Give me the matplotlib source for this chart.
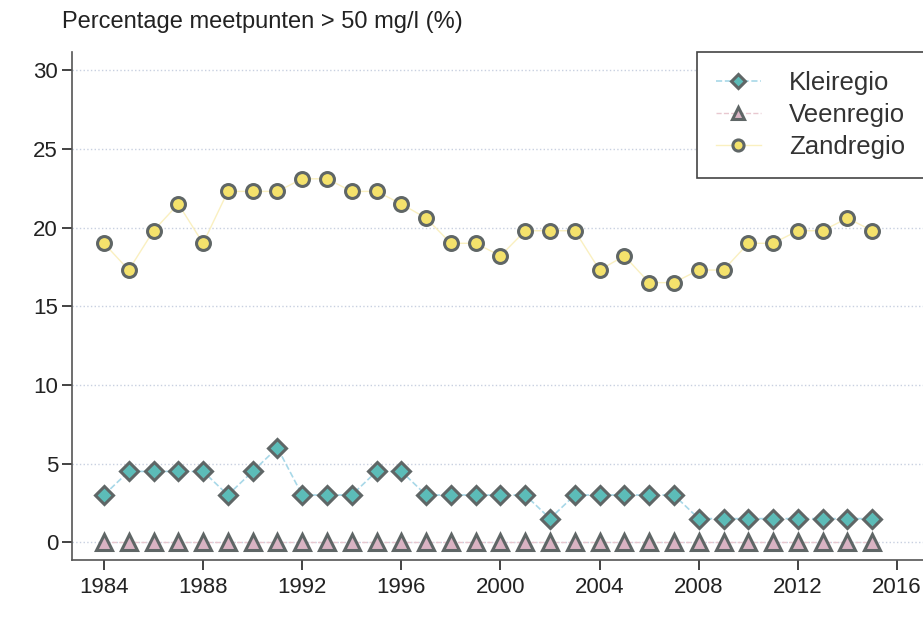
import matplotlib.pyplot as plt
import numpy as np

plt.rcParams['font.family'] = ['Liberation Sans', 'DejaVu Sans']

jaren = list(range(1984, 2016))
klei = [3.0, 4.5, 4.5, 4.5, 4.5, 3.0, 4.5, 6.0, 3.0, 3.0, 3.0, 4.5, 4.5, 3.0, 3.0, 3.0,
        3.0, 3.0, 1.5, 3.0, 3.0, 3.0, 3.0, 3.0, 1.5, 1.5, 1.5, 1.5, 1.5, 1.5, 1.5, 1.5]
veen = [0.0] * 32
zand = [19.0, 17.3, 19.8, 21.5, 19.0, 22.3, 22.3, 22.3, 23.1, 23.1, 22.3, 22.3, 21.5, 20.6,
        19.0, 19.0, 18.2, 19.8, 19.8, 19.8, 17.3, 18.2, 16.5, 16.5, 17.3, 17.3, 19.0, 19.0,
        19.8, 19.8, 20.6, 19.8]
xticks = list(range(1984, 2017, 4))
yticks = [0, 5, 10, 15, 20, 25, 30]

edge = '#5f6666'
fig = plt.figure(figsize=(9.23, 6.21), dpi=100)
ax = fig.add_axes([0.078, 0.098, 0.922, 0.818])

for y in yticks:
    ax.axhline(y, color='#c8d0e0', lw=1.0, ls=':', zorder=0)

ax.plot(jaren, klei, color='#a8d8e8', ls='--', lw=1.2, marker='D', ms=9,
        mfc='#5cbcb8', mec=edge, mew=2.2, label='Kleiregio')
ax.plot(jaren, veen, color='#e8c8d0', ls='--', lw=1.0, marker='^', ms=11,
        mfc='#d9b3c3', mec=edge, mew=2.2, label='Veenregio')
ax.plot(jaren, zand, color='#faf0c0', ls='-', lw=1.0, marker='o', ms=10,
        mfc='#f4e26c', mec=edge, mew=2.2, label='Zandregio')

ax.set_xlim(1982.71, 2017.05)
ax.set_ylim(-1.14, 31.15)
ax.set_xticks(xticks)
ax.set_yticks(yticks)
ax.tick_params(labelsize=16, colors='#222222', length=7, width=1.2, direction='out', pad=5)
ax.tick_params(axis='y', pad=3)
for s in ['top', 'right']:
    ax.spines[s].set_visible(False)
for s in ['left', 'bottom']:
    ax.spines[s].set_color('#555555')
    ax.spines[s].set_linewidth(1.2)

leg = ax.legend(loc='upper left', fontsize=18.5, fancybox=False, framealpha=1,
                edgecolor='#444444', borderpad=0.75, labelspacing=0.3, handlelength=1.75,
                handletextpad=1.1, markerscale=0.8,
                bbox_to_anchor=(0.734, 1.0), borderaxespad=0)
leg.get_frame().set_linewidth(1.2)
for t in leg.get_texts():
    t.set_color('#333333')

fig.text(0.067, 0.965, 'Percentage meetpunten > 50 mg/l (%)', fontsize=17,
         color='#222222', va='center')

fig.savefig('out.png', dpi=100)
